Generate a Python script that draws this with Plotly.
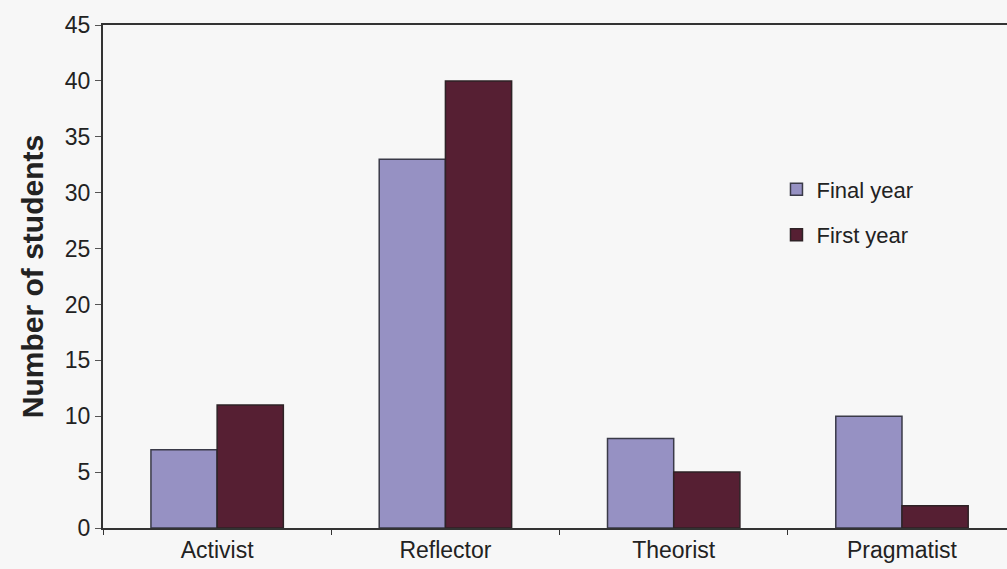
import plotly.graph_objects as go

categories = ["Activist", "Reflector", "Theorist", "Pragmatist"]
final_year = [7, 33, 8, 10]
first_year = [11, 40, 5, 2]
y_ticks = [0, 5, 10, 15, 20, 25, 30, 35, 40, 45]

fig = go.Figure()
fig.add_trace(go.Bar(name="Final year", x=categories, y=final_year, legendgroup="a",
                     marker=dict(color="#9691c3", line=dict(color="#3a3a48", width=1.5))))
fig.add_trace(go.Bar(name="First year", x=categories, y=first_year, legendgroup="b",
                     marker=dict(color="#561f33", line=dict(color="#2e2226", width=1.5))))

font_family = "Liberation Sans, Arial, sans-serif"
fig.update_layout(
    width=1007, height=569,
    margin=dict(l=103, r=0, t=25, b=41),
    paper_bgcolor="#f7f7f7", plot_bgcolor="#f7f7f7",
    barmode="group", bargap=0.42, bargroupgap=0,
    font=dict(family=font_family, size=23, color="#222222"),
    showlegend=True,
    legend=dict(x=0.745, y=0.715, xanchor="left", yanchor="top",
                bgcolor="rgba(0,0,0,0)", font=dict(size=22, color="#222222"),
                itemwidth=30, tracegroupgap=14),
    xaxis=dict(range=[-0.5, 3.46], showline=True, linecolor="#333333", linewidth=2,
               mirror=True, ticks="outside", tickson="boundaries", ticklen=5,
               tickcolor="#333333", showgrid=False, tickfont=dict(size=23)),
    yaxis=dict(range=[0, 45], tickvals=y_ticks, showline=True, linecolor="#333333",
               linewidth=2, ticks="outside", ticklen=6, tickcolor="#555555",
               showgrid=False, zeroline=False, tickfont=dict(size=23),
               title=dict(text="<b>Number of students</b>", font=dict(size=30), standoff=12)),
)

fig.write_html("out.html", config={"displayModeBar": False},
               post_script="document.body.style.margin='0';document.body.style.background='#f7f7f7';")
